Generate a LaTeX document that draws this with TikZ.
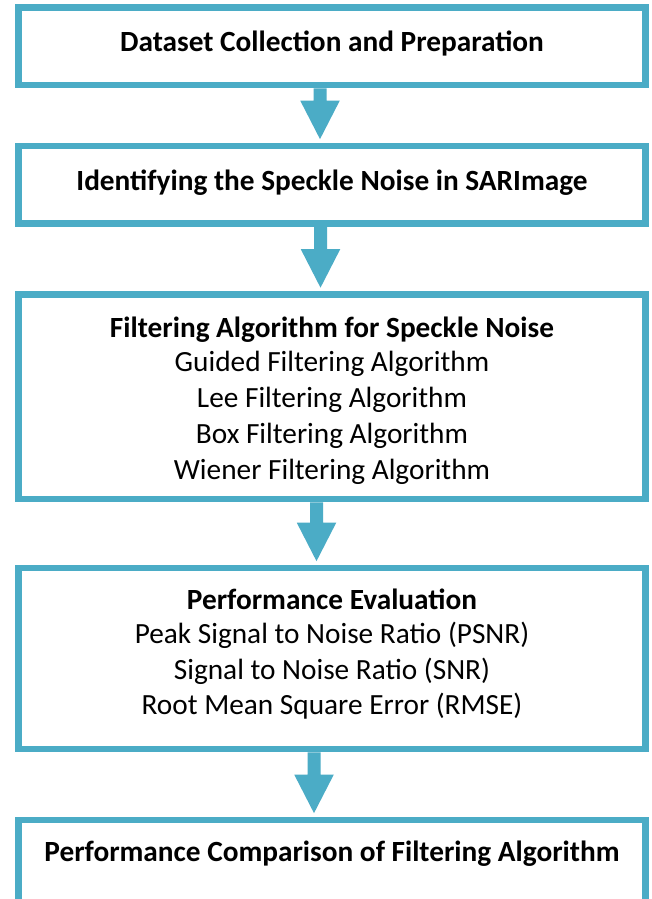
\documentclass[tikz,border=0pt]{standalone}
\usepackage{fontspec}
\setmainfont{Carlito}
\usetikzlibrary{calc}

\definecolor{flowcol}{HTML}{4BACC6}

\tikzset{
  stage/.style={draw=flowcol, line width=6.7pt, minimum width=627.4pt,
    inner sep=0pt, fill=white},
  stagetext/.style={anchor=base, inner sep=0pt, text=black,
    font=\fontsize{29.3}{35.8}\selectfont},
}

% Block arrow: shaft from the lower box edge of #1 down to a triangular
% head whose tip touches the upper edge of #2, centred at x = #3
\newcommand\flowarrow[3]{%
  \fill[flowcol] let \p1=(#1.south), \p2=(#2.north) in
    (#3pt-6.5pt,\y1) -- (#3pt+6.5pt,\y1) -- (#3pt+6.5pt,\y2+42pt)
    -- (#3pt+19.75pt,\y2+42pt) -- (#3pt,\y2+3.5pt)
    -- (#3pt-19.75pt,\y2+42pt) -- (#3pt-6.5pt,\y2+42pt) -- cycle;}

\begin{document}
\begin{tikzpicture}[x=1pt,y=-1pt]
  \path[use as bounding box] (0,0) rectangle (652,899);
  \clip (0,0) rectangle (652,899);
  \fill[white] (0,0) rectangle (652,899);

  % stage boxes
  \node[stage, minimum height=77.3pt]  (b1) at (332,46.35) {};
  \node[stage, minimum height=77.3pt]  (b2) at (332,184.65) {};
  \node[stage, minimum height=204.5pt] (b3) at (332,396.75) {};
  \node[stage, minimum height=181pt]   (b4) at (332,658.5) {};
  \node[stage, minimum height=130pt]   (b5) at (332,885) {};

  % stage texts
  \node[stagetext] (t1) at ($(b1.north)+(0,47.3)$)
    {\bfseries Dataset Collection and Preparation};
  \node[stagetext] (t2) at ($(b2.north)+(0,48)$)
    {\bfseries Identifying the Speckle Noise in SARImage};
  \node[stagetext] (t3) at ($(b3.north)+(0,46.5)$)
    {\begin{tabular}[t]{@{}c@{}}
      \bfseries Filtering Algorithm for Speckle Noise\\[-1.5pt]
      Guided Filtering Algorithm\\
      Lee Filtering Algorithm\\
      Box Filtering Algorithm\\
      Wiener Filtering Algorithm
    \end{tabular}};
  \node[stagetext, font=\fontsize{29.3}{35.6}\selectfont] (t4)
    at ($(b4.north)+(0,45)$)
    {\begin{tabular}[t]{@{}c@{}}
      \bfseries Performance Evaluation\\[-1.5pt]
      Peak Signal to Noise Ratio (PSNR)\\
      Signal to Noise Ratio (SNR)\\
      Root Mean Square Error (RMSE)
    \end{tabular}};
  \node[stagetext] (t5) at ($(b5.north)+(0,44.5)$)
    {\bfseries Performance Comparison of Filtering Algorithm};

  % connecting block arrows
  \flowarrow{b1}{b2}{320}
  \flowarrow{b2}{b3}{320.5}
  \flowarrow{b3}{b4}{316.5}
  \flowarrow{b4}{b5}{314}
\end{tikzpicture}
\end{document}
